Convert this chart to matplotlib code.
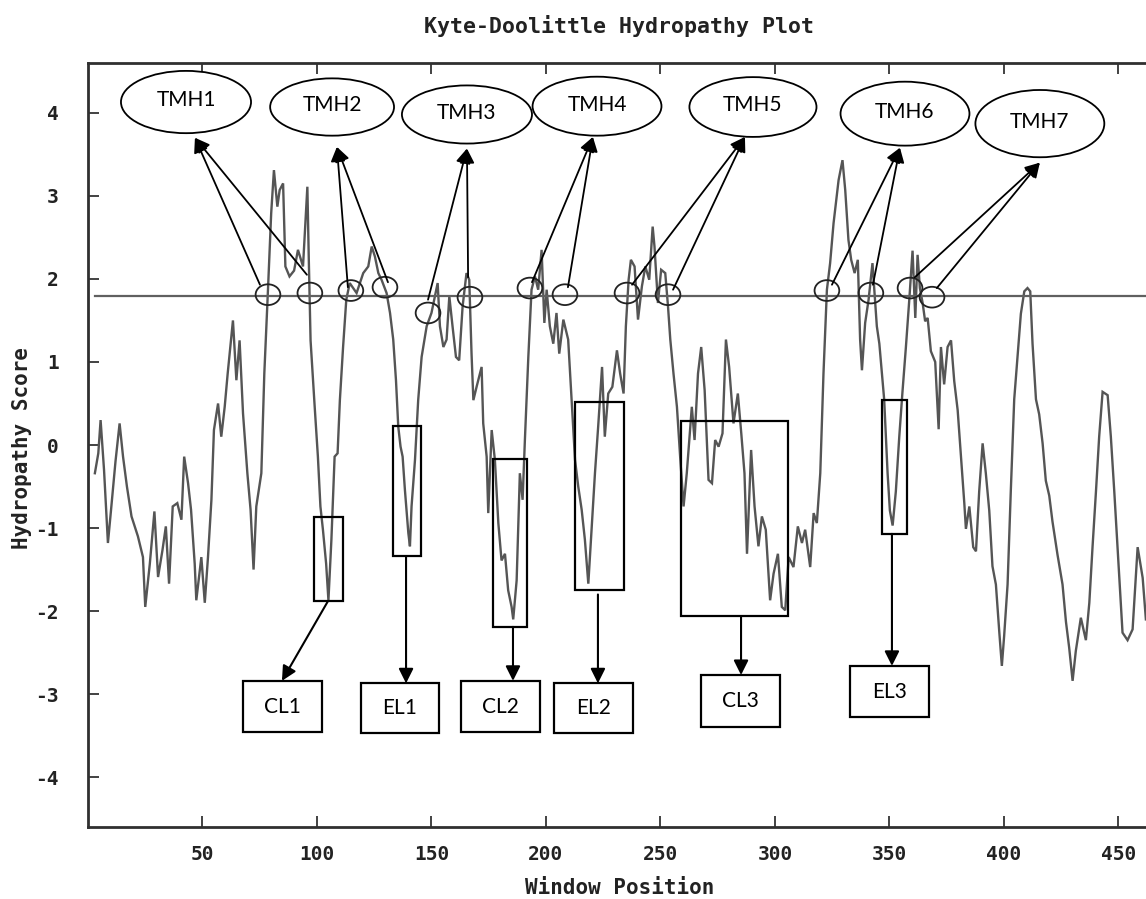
import matplotlib
matplotlib.use("Agg")
import matplotlib.pyplot as plt
from matplotlib.patches import Ellipse, Rectangle

plt.rcParams["axes.unicode_minus"] = False

# ---------------- data ----------------
positions = [3, 4.5, 5.5, 7, 8.7, 10, 12, 13.8, 15.3, 17, 19, 21.8, 24, 25, 27, 29, 30.6, 32.5, 34, 35.4,
             37, 39, 40.8, 42, 43.7, 45, 46.6, 47.3, 49.5, 51, 52.4, 53.9, 55, 56.8, 58.2, 59.7, 61, 63.3,
             64.8, 66.2, 67.7, 69.6, 71, 72.3, 73.5, 75.7, 77, 78.6, 80, 81.2, 82.7, 83.7, 85.2, 86.2, 88,
             90, 91.7, 93.9, 95.8, 96.4, 97.2, 99, 100.4, 101.5, 102.6, 104, 105, 106.3, 107.7, 109, 110,
             111.4, 112.8, 114.3, 117.3, 120.2, 122.4, 123.9, 125.3, 126.8, 128.2, 130.4, 131.9, 133.3,
             134.5, 135.5, 136.5, 137.4, 138.4, 139.9, 140.6, 141.3, 142.8, 144.2, 145.7, 147.9, 150,
             151.5, 152.7, 153.7, 155.2, 156.6, 157.8, 159.2, 160.7, 162.1, 163.6, 165.3, 166.5, 167.5,
             168.3, 169.7, 171.9, 172.6, 174.1, 174.8, 176.3, 177.7, 179.2, 180.6, 182.1, 183.5, 185,
             185.7, 187.2, 188.6, 189.8, 190.8, 192.3, 193.7, 195.2, 196.6, 198.1, 199.3, 200.3, 201.7,
             203.2, 204.6, 205.8, 207.6, 209.7, 211.2, 212.7, 214.1, 215.6, 217, 218.5, 219.9, 221.4,
             222.8, 224.5, 225.7, 227.2, 229, 231, 232.4, 233.9, 234.9, 236.1, 237.1, 238.7, 240.2,
             241.9, 243.4, 245.1, 246.6, 247.4, 248.9, 250.3, 252.1, 253.3, 254.3, 255.7, 257.2, 258.6,
             260.1, 261.5, 263.7, 264.9, 266.4, 267.8, 269.3, 271, 272.5, 273.9, 275.4, 277.1, 278.6,
             280, 281.9, 283.8, 285.3, 286.7, 287.8, 289.6, 291.1, 292.8, 294.3, 296, 297.9, 299.4,
             301.3, 303, 304.5, 306, 308.1, 310, 311.8, 313.2, 315.4, 316.9, 318.3, 319.8, 321.2, 322.7,
             324.1, 325.6, 327.8, 329.5, 330.7, 332.1, 333.3, 334.8, 336.2, 337.2, 338, 339.4, 340.9,
             342.6, 344.5, 345.6, 347.7, 349.2, 350.2, 351.4, 352.8, 354.3, 355.7, 357.2, 358.7, 360.1,
             361.3, 362.3, 363.3, 364.5, 365.6, 366.7, 368.1, 370, 371.5, 372.5, 373.9, 375.4, 376.9,
             378.3, 379.8, 381.2, 382.7, 383.4, 384.9, 386.6, 387.8, 389.2, 390.7, 392.1, 393.6, 395,
             396.5, 398, 399.1, 400.1, 401.6, 403, 404.5, 406, 407.4, 408.9, 410.3, 411.5, 412.5, 414,
             415.4, 416.9, 418.3, 419.8, 421.2, 423.4, 425.6, 427.1, 428.5, 430, 431.4, 433.6, 435.8,
             437.3, 438.7, 440.2, 441.6, 443.1, 445.3, 446.7, 448.2, 449.6, 451.8, 454, 456.2, 458.4,
             460.6, 462]
scores = [-0.34, -0.1, 0.3, -0.3, -1.18, -0.8, -0.2, 0.26, -0.14, -0.5, -0.86, -1.1, -1.35, -1.95, -1.43,
          -0.8, -1.59, -1.27, -0.98, -1.67, -0.74, -0.7, -0.9, -0.14, -0.46, -0.78, -1.43, -1.87, -1.35,
          -1.9, -1.35, -0.66, 0.18, 0.5, 0.1, 0.46, 0.86, 1.5, 0.78, 1.26, 0.38, -0.34, -0.78, -1.5,
          -0.74, -0.34, 0.86, 1.87, 2.79, 3.31, 2.87, 3.07, 3.15, 2.15, 2.03, 2.1, 2.35, 2.15, 3.11,
          2.27, 1.26, 0.46, -0.14, -0.74, -1.02, -1.43, -1.87, -1.14, -0.14, -0.1, 0.54, 1.18, 1.75,
          1.95, 1.83, 2.07, 2.15, 2.39, 2.27, 2.07, 1.99, 1.83, 1.59, 1.27, 0.78, 0.22, -0.02, -0.14,
          -0.54, -1.06, -1.22, -0.74, -0.18, 0.54, 1.06, 1.43, 1.59, 1.79, 1.95, 1.43, 1.18, 1.27,
          1.79, 1.43, 1.06, 1.02, 1.67, 2.07, 1.99, 1.1, 0.54, 0.7, 0.94, 0.26, -0.14, -0.82, 0.18,
          -0.18, -0.94, -1.39, -1.31, -1.75, -1.95, -2.1, -1.63, -0.34, -0.66, 0.06, 1.06, 1.87, 2.03,
          1.87, 2.35, 1.47, 1.87, 1.43, 1.22, 1.59, 1.1, 1.51, 1.27, 0.54, -0.18, -0.5, -0.78, -1.14,
          -1.67, -1.02, -0.34, 0.22, 0.94, 0.1, 0.62, 0.7, 1.14, 0.86, 0.62, 1.43, 1.99, 2.23, 2.15,
          1.51, 1.91, 2.15, 1.99, 2.63, 2.39, 1.71, 2.11, 2.07, 1.67, 1.27, 0.86, 0.46, -0.14, -0.74,
          -0.34, 0.46, 0.06, 0.86, 1.18, 0.66, -0.42, -0.46, 0.06, -0.02, 0.14, 1.27, 0.94, 0.26,
          0.62, 0.14, -0.34, -1.31, -0.06, -0.74, -1.22, -0.86, -1.02, -1.87, -1.55, -1.31, -1.95,
          -1.99, -1.35, -1.47, -0.98, -1.18, -1.02, -1.47, -0.82, -0.94, -0.34, 0.86, 1.87, 2.19,
          2.67, 3.19, 3.43, 3.07, 2.47, 2.23, 2.07, 2.23, 1.27, 0.9, 1.47, 1.75, 2.19, 1.43, 1.22,
          0.55, -0.34, -0.79, -0.97, -0.56, 0.1, 0.64, 1.18, 1.76, 2.34, 1.53, 2.29, 1.89, 1.71,
          1.49, 1.53, 1.13, 1.0, 0.19, 1.18, 0.73, 1.18, 1.26, 0.77, 0.42, -0.12, -0.7, -1.01, -0.74,
          -1.23, -1.28, -0.56, 0.02, -0.34, -0.79, -1.46, -1.68, -2.26, -2.66, -2.3, -1.68, -0.56,
          0.55, 1.09, 1.58, 1.85, 1.89, 1.85, 1.22, 0.55, 0.37, 0.02, -0.43, -0.61, -0.92, -1.32,
          -1.68, -2.13, -2.44, -2.84, -2.48, -2.08, -2.35, -1.9, -1.23, -0.56, 0.1, 0.64, 0.6, 0.1,
          -0.56, -1.23, -2.26, -2.35, -2.22, -1.23, -1.6, -2.1]
threshold = 1.8

x_ticks = [50, 100, 150, 200, 250, 300, 350, 400, 450]
y_ticks = [-4, -3, -2, -1, 0, 1, 2, 3, 4]

# TMH ellipses: label, centre x, centre y, width, height
tmh_labels = ["TMH1", "TMH2", "TMH3", "TMH4", "TMH5", "TMH6", "TMH7"]
tmh_x = [42.8, 106.6, 165.5, 222.3, 290.4, 356.8, 415.7]
tmh_y = [4.13, 4.07, 3.98, 4.08, 4.07, 3.99, 3.87]
tmh_w = [56.8, 54.1, 56.8, 56.3, 55.5, 56.3, 56.3]
tmh_h = [0.75, 0.69, 0.70, 0.71, 0.72, 0.77, 0.81]
# arrow heads (at ellipses) and the two tails of each
tmh_head_x = [46.7, 108.7, 165.5, 220.5, 286.9, 354.6, 415.7]
tmh_head_y = [3.70, 3.59, 3.57, 3.71, 3.71, 3.58, 3.40]
tmh_tail_x = [[75.1, 95.6], [113.5, 131.0], [148.5, 166.0], [193.9, 209.6],
              [237.6, 255.5], [324.9, 342.8], [361.1, 370.7]]
tmh_tail_y = [[1.93, 2.05], [1.90, 1.96], [1.75, 2.02], [1.96, 1.90],
              [1.93, 1.87], [1.93, 1.93], [2.02, 1.89]]

# small crossing circles
cross_x = [78.6, 96.9, 114.8, 129.7, 148.5, 166.8, 193.0, 208.3, 235.4, 253.3, 322.7, 341.9, 359.0, 368.6]
cross_y = [1.81, 1.83, 1.86, 1.90, 1.59, 1.78, 1.89, 1.81, 1.83, 1.81, 1.86, 1.83, 1.89, 1.78]

# loop regions (rectangles) and their labels
loop_labels = ["CL1", "EL1", "CL2", "EL2", "CL3", "EL3"]
loop_x0 = [98.7, 133.2, 176.9, 212.7, 259.0, 346.7]
loop_x1 = [111.4, 145.4, 191.7, 234.1, 305.7, 357.6]
loop_y0 = [-1.88, -1.34, -2.19, -1.75, -2.06, -1.07]
loop_y1 = [-0.87, 0.23, -0.17, 0.52, 0.29, 0.54]
label_x0 = [67.7, 119.2, 162.9, 203.5, 267.7, 332.8]
label_x1 = [102.2, 153.3, 197.4, 238.0, 302.2, 367.2]
label_y0 = [-3.46, -3.47, -3.46, -3.47, -3.39, -3.28]
label_y1 = [-2.84, -2.87, -2.84, -2.87, -2.77, -2.66]
loop_arrow_from = [(104.8, -1.88), (138.9, -1.34), (185.6, -2.19), (222.7, -1.80), (285.2, -2.06), (351.1, -1.07)]
loop_arrow_to = [(84.7, -2.84), (138.9, -2.87), (185.6, -2.84), (222.7, -2.87), (285.2, -2.77), (351.1, -2.66)]

# ---------------- figure ----------------
W, H = 1146, 899
fig = plt.figure(figsize=(W / 100, H / 100), dpi=100)
ax = fig.add_axes([88 / W, (H - 827) / H, (1150 - 88) / W, (827 - 63) / H])
ax.set_xlim(0, 463.8)
ax.set_ylim(-4.6, 4.6)

mono = "DejaVu Sans Mono"
sans = "Lato"

ax.plot(positions, scores, color="#555555", lw=1.7, solid_joinstyle="miter", zorder=2)
ax.plot([3, 470], [threshold, threshold], color="#606060", lw=1.6, zorder=2)

for sp in ["left", "bottom", "top"]:
    ax.spines[sp].set_linewidth(2.0)
    ax.spines[sp].set_color("#303030")
ax.spines["right"].set_visible(False)

ax.set_xticks(x_ticks)
ax.set_yticks(y_ticks)
ax.tick_params(axis="x", direction="in", length=8, width=1.2, top=True, bottom=True,
               pad=13, labelsize=14, colors="#222222")
ax.tick_params(axis="y", direction="in", length=8, width=1.2, left=True, right=False,
               pad=21, labelsize=14, colors="#222222")
for lab in ax.get_xticklabels() + ax.get_yticklabels():
    lab.set_fontfamily(mono)
    lab.set_fontweight("bold")

ax.set_xlabel("Window Position", fontsize=15, fontfamily=mono, fontweight="bold", color="#222222")
ax.xaxis.set_label_coords(0.501, -0.080)
ax.xaxis.label.set_verticalalignment("center")
ax.set_ylabel("Hydropathy Score", fontsize=15, fontfamily=mono, fontweight="bold", color="#222222")
ax.yaxis.set_label_coords(-0.062, 0.496)
ax.yaxis.label.set_verticalalignment("center")

fig.text(619 / W, 1 - 26 / H, "Kyte-Doolittle Hydropathy Plot", ha="center", va="center",
         fontsize=15.5, fontfamily=mono, fontweight="bold", color="#222222")

# TMH ellipses and arrows
for i, lab in enumerate(tmh_labels):
    ax.add_patch(Ellipse((tmh_x[i], tmh_y[i]), tmh_w[i], tmh_h[i], fill=True, facecolor="white",
                         edgecolor="black", lw=1.3, zorder=4, clip_on=False))
    ax.text(tmh_x[i], tmh_y[i] + 0.02, lab, ha="center", va="center", fontsize=15,
            fontfamily=sans, color="black", zorder=5)
    for tx, ty in zip(tmh_tail_x[i], tmh_tail_y[i]):
        ax.annotate("", xy=(tmh_head_x[i], tmh_head_y[i]), xytext=(tx, ty),
                    arrowprops=dict(arrowstyle="-|>", color="black", lw=1.3,
                                    mutation_scale=22, shrinkA=0, shrinkB=0), zorder=5)

for cx, cy in zip(cross_x, cross_y):
    ax.add_patch(Ellipse((cx, cy), 10.8, 0.25, fill=False, edgecolor="#222222", lw=1.3, zorder=4))

# loops
for i, lab in enumerate(loop_labels):
    ax.add_patch(Rectangle((loop_x0[i], loop_y0[i]), loop_x1[i] - loop_x0[i], loop_y1[i] - loop_y0[i],
                           fill=False, edgecolor="black", lw=1.6, zorder=4))
    ax.add_patch(Rectangle((label_x0[i], label_y0[i]), label_x1[i] - label_x0[i],
                           label_y1[i] - label_y0[i], facecolor="white", edgecolor="black",
                           lw=1.6, zorder=4))
    ax.text((label_x0[i] + label_x1[i]) / 2, (label_y0[i] + label_y1[i]) / 2, lab,
            ha="center", va="center", fontsize=15, fontfamily=sans, color="black", zorder=5)
    ax.annotate("", xy=loop_arrow_to[i], xytext=loop_arrow_from[i],
                arrowprops=dict(arrowstyle="-|>", color="black", lw=1.5,
                                mutation_scale=22, shrinkA=0, shrinkB=0), zorder=5)

fig.savefig("out.png", dpi=100, facecolor="white")
